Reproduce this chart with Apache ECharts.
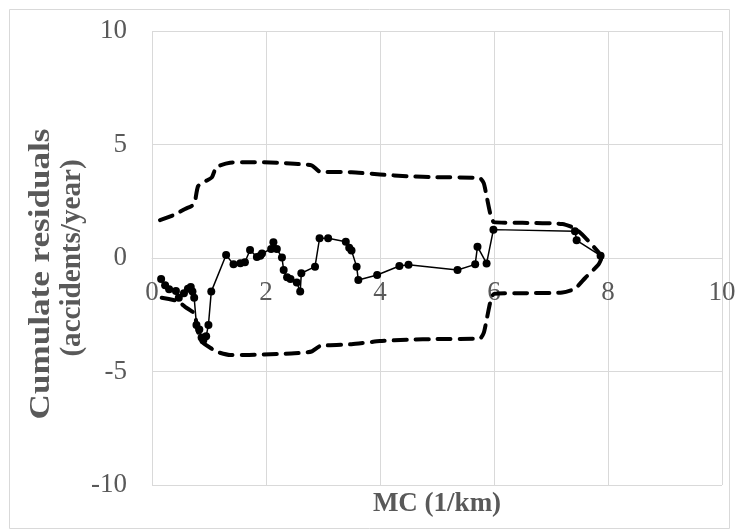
<!DOCTYPE html>
<html>
<head>
<meta charset="utf-8">
<script src="https://cdn.jsdelivr.net/npm/echarts@6/dist/echarts.min.js"></script>
<style>
  html, body { margin: 0; padding: 0; background: #fff; }
  #chart { width: 738px; height: 531px; }
</style>
</head>
<body>
<div id="chart"></div>
<script>
// cumulative residuals vs MC
const mcMain = [0.16, 0.23, 0.3, 0.42, 0.47, 0.56, 0.63, 0.68, 0.71, 0.74, 0.78, 0.83, 0.87, 0.9, 0.95, 0.99, 1.04,
  1.3, 1.43, 1.55, 1.63, 1.72, 1.84, 1.9, 1.93, 2.09, 2.13, 2.19, 2.28, 2.31, 2.37, 2.43, 2.54, 2.6, 2.62,
  2.86, 2.94, 3.09, 3.4, 3.46, 3.5, 3.59, 3.62, 3.95, 4.34, 4.5, 5.36, 5.67, 5.71, 5.87, 5.99, 7.42, 7.45, 7.87]
const resMain = [-0.92, -1.2, -1.38, -1.45, -1.75, -1.55, -1.35, -1.28, -1.48, -1.75, -2.95, -3.15, -3.5, -3.62, -3.45, -2.95, -1.48,
  0.13, -0.28, -0.23, -0.19, 0.35, 0.04, 0.1, 0.2, 0.4, 0.69, 0.4, 0.02, -0.53, -0.85, -0.92, -1.08, -1.48, -0.67,
  -0.38, 0.87, 0.87, 0.72, 0.45, 0.33, -0.38, -0.97, -0.75, -0.35, -0.3, -0.53, -0.28, 0.5, -0.24, 1.25, 1.18, 0.78, 0.1]

// upper bound (dashed)
const mcUpper = [0.14, 0.37, 0.58, 0.7, 0.75, 0.81, 0.95, 1.05, 1.13, 1.37, 1.7, 2.2, 2.5, 2.8, 2.95, 3.5, 4.0, 4.5, 5.0, 5.75,
  5.82, 5.88, 5.94, 6.0, 6.5, 7.2, 7.42, 7.6, 7.85, 7.89]
const resUpper = [1.67, 1.88, 2.16, 2.3, 2.45, 3.17, 3.4, 3.55, 4.0, 4.2, 4.22, 4.2, 4.15, 4.08, 3.8, 3.78, 3.68, 3.6, 3.56, 3.52,
  3.3, 2.6, 1.9, 1.58, 1.55, 1.5, 1.3, 0.9, 0.2, 0]

// lower bound (dashed)
const mcLower = [0.17, 0.45, 0.58, 0.7, 0.75, 0.8, 0.88, 1.05, 1.16, 1.37, 1.7, 2.2, 2.5, 2.8, 2.95, 3.5, 4.0, 4.5, 5.0, 5.75,
  5.82, 5.88, 5.94, 6.0, 6.5, 7.2, 7.42, 7.6, 7.83, 7.89]
const resLower = [-1.75, -1.9, -2.15, -2.35, -2.45, -3.2, -3.7, -4.0, -4.15, -4.27, -4.27, -4.23, -4.2, -4.12, -3.88, -3.8, -3.66, -3.6, -3.57, -3.55,
  -3.3, -2.6, -1.9, -1.58, -1.55, -1.52, -1.35, -0.88, -0.3, 0]

const xTicks = { min: 0, max: 10, step: 2 }
const yTicks = { min: -10, max: 10, step: 5 }

const pairs = (xs, ys) => xs.map((x, i) => [x, ys[i]])

const gray = '#595959'
const gridColor = '#d9d9d9'
const serif = '"Liberation Serif", "Times New Roman", serif'

const gridTop = 31
const gridHeight = 454

const chart = echarts.init(document.getElementById('chart'))

const dashed = {
  type: 'line',
  symbol: 'none',
  smooth: 0.2,
  lineStyle: { color: '#000', width: 4, type: [13, 9], cap: 'round', join: 'round' },
  z: 2,
}

// y title is drawn as two rotated text lines (the reference stretches the first one)
const titleText = (text, x, y, stretch) => ({
  type: 'text',
  x: x,
  y: y,
  rotation: Math.PI / 2,
  scaleX: stretch,
  silent: true,
  style: {
    text: text,
    fill: gray,
    font: 'bold 30px ' + serif,
    textAlign: 'center',
    textVerticalAlign: 'middle',
  },
})

chart.setOption({
  animation: false,
  backgroundColor: '#fff',
  grid: { left: 152, top: gridTop, width: 570, height: gridHeight, outerBoundsMode: 'none' },
  graphic: [
    {
      type: 'rect',
      shape: { x: 9.5, y: 9.5, width: 720, height: 519 },
      style: { fill: 'none', stroke: gridColor, lineWidth: 1 },
      silent: true,
      z: -1,
    },
    titleText('Cumulate residuals', 41, 274, 1.17),
    titleText('(accidents/year)', 72, 258, 0.97),
  ],
  xAxis: {
    type: 'value',
    min: xTicks.min,
    max: xTicks.max,
    interval: xTicks.step,
    // axis crosses at y = 0, i.e. half way up the plot
    offset: -gridHeight / 2,
    axisLine: { onZero: false, lineStyle: { color: gridColor } },
    axisTick: { show: false },
    splitLine: { lineStyle: { color: gridColor } },
    axisLabel: { color: gray, fontFamily: serif, fontSize: 27, margin: 21 },
    name: 'MC (1/km)',
    nameLocation: 'middle',
    nameGap: 233,
    nameTextStyle: { color: gray, fontFamily: serif, fontSize: 27, fontWeight: 'bold' },
  },
  yAxis: {
    type: 'value',
    min: yTicks.min,
    max: yTicks.max,
    interval: yTicks.step,
    axisLine: { show: false },
    axisTick: { show: false },
    splitLine: { lineStyle: { color: gridColor } },
    axisLabel: { color: gray, fontFamily: serif, fontSize: 27, margin: 25 },
  },
  series: [
    { ...dashed, data: pairs(mcUpper, resUpper) },
    { ...dashed, data: pairs(mcLower, resLower) },
    {
      type: 'line',
      data: pairs(mcMain, resMain),
      symbol: 'circle',
      symbolSize: 8,
      itemStyle: { color: '#000' },
      lineStyle: { color: '#000', width: 1.5 },
      z: 3,
    },
  ],
})
</script>
</body>
</html>
